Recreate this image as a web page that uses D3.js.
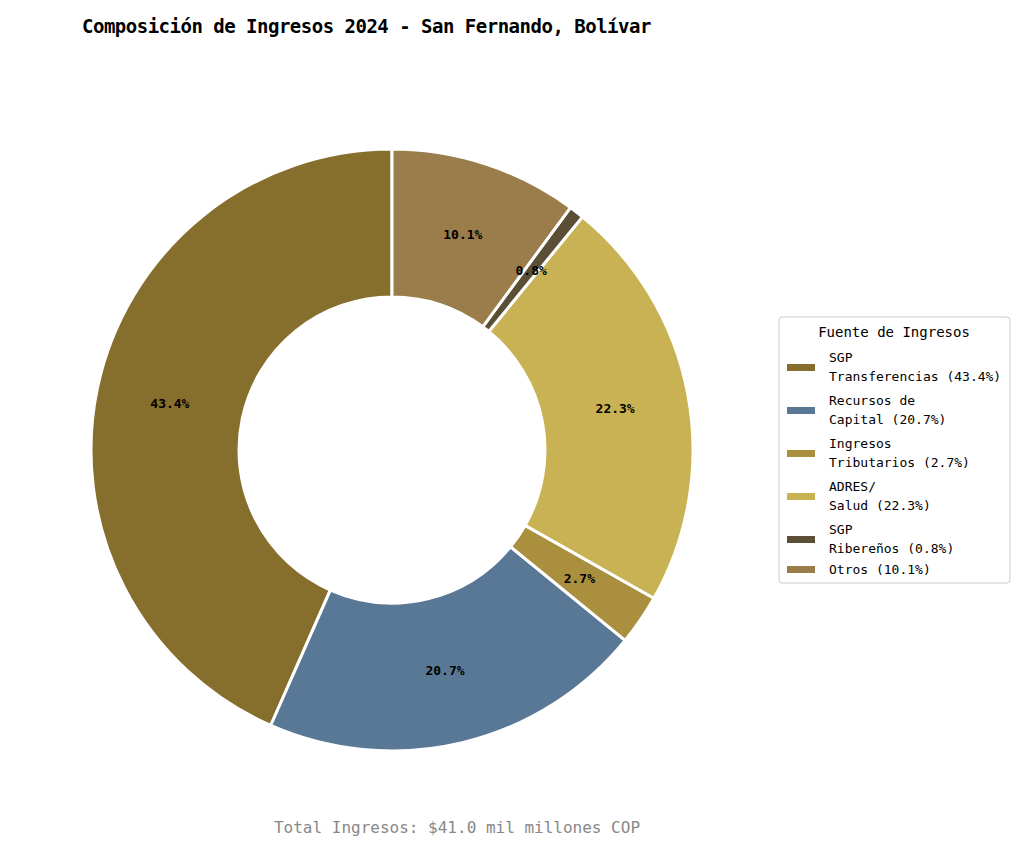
<!DOCTYPE html><html><head><meta charset="utf-8"><script src="https://cdn.jsdelivr.net/npm/d3@7"></script>
<style>body{margin:0;background:#fff}text{font-family:"DejaVu Sans Mono",monospace}</style></head><body>
<svg id="c" width="1024" height="851"></svg>
<script>
const categories=["SGP\nTransferencias","Recursos de\nCapital","Ingresos\nTributarios","ADRES/\nSalud","SGP\nRibereños","Otros"];
const values=[43.4,20.7,2.7,22.3,0.8,10.1];
const colors=["#866e2d","#587896","#a98f3e","#c9b253","#5a4f35","#9a7d4b"];
const svg=d3.select("#c");
svg.append("text").attr("x",82).attr("y",33).attr("font-size",19).attr("font-weight","bold").attr("letter-spacing",-0.5).text("Composición de Ingresos 2024 - San Fernando, Bolívar");
const g=svg.append("g").attr("transform","translate(392,450)");
const pie=d3.pie().sort(null).startAngle(0).endAngle(-2*Math.PI);
const arcs=pie(values);
const arc=d3.arc().innerRadius(153).outerRadius(301);
const la=d3.arc().innerRadius(227).outerRadius(227);
g.selectAll("path").data(arcs).join("path").attr("d",arc).attr("fill",(d,i)=>colors[i]).attr("stroke","#fff").attr("stroke-width",3);
g.selectAll(".l").data(arcs).join("text").attr("transform",d=>`translate(${la.centroid(d)})`).attr("text-anchor","middle").attr("dy","0.35em").attr("font-size",13).attr("font-weight","bold").text(d=>d.data.toFixed(1)+"%");
const lg=svg.append("g").attr("transform","translate(779,317)");
lg.append("rect").attr("width",231).attr("height",266).attr("rx",3).attr("fill","#fff").attr("stroke","#ccc");
lg.append("text").attr("x",115).attr("y",20).attr("text-anchor","middle").attr("font-size",14).text("Fuente de Ingresos");
categories.forEach((c,i)=>{
 const lines=(c+" ("+values[i].toFixed(1)+"%)").split("\n");
 const y=[50,93,136,179,222,252][i];
 lg.append("rect").attr("x",8).attr("y",y-3).attr("width",28).attr("height",7).attr("fill",colors[i]);
 lines.forEach((t,j)=>lg.append("text").attr("x",50).attr("y",y+(lines.length==2?(j==0?-5:14):5)).attr("font-size",13).text(t));
});
svg.append("text").attr("x",457).attr("y",833).attr("text-anchor","middle").attr("font-size",16).attr("fill","#888").text("Total Ingresos: $41.0 mil millones COP");
</script></body></html>
